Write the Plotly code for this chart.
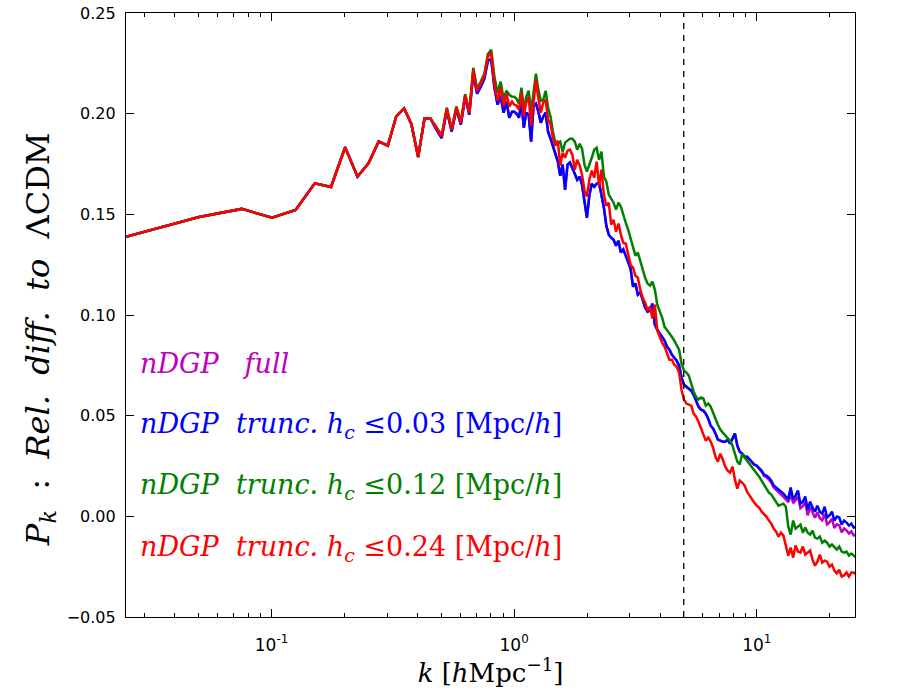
"""
Relative difference of P(k) to LCDM for full nDGP and the truncated runs
"""
import plotly.graph_objects as go

# ---- data ------------------------------------------------------------------
# low-k fundamental modes (k = n * 2pi/250)
k_lo = [0.02513, 0.05027, 0.0754, 0.1005, 0.1257, 0.1508, 0.1759, 0.2011, 0.2262, 0.2513,
        0.2765, 0.3016, 0.3267, 0.3519, 0.3770, 0.4021, 0.4273, 0.4524, 0.4775, 0.5027,
        0.5278, 0.5529, 0.5781, 0.6032, 0.6283, 0.6535, 0.6786, 0.7037, 0.7288, 0.7540,
        0.7791, 0.8042, 0.8294, 0.8545, 0.8796, 0.9048, 0.9299, 0.9550, 0.9802]
# k > 1 (sampled)
k_hi = [1.000, 1.023, 1.047, 1.072, 1.096, 1.122, 1.148, 1.175, 1.202, 1.230,
        1.259, 1.288, 1.318, 1.349, 1.380, 1.413, 1.445, 1.479, 1.514, 1.549,
        1.585, 1.622, 1.660, 1.698, 1.738, 1.778, 1.820, 1.862, 1.905, 1.950,
        1.995, 2.042, 2.089, 2.138, 2.188, 2.239, 2.291, 2.344, 2.399, 2.455,
        2.512, 2.570, 2.630, 2.692, 2.754, 2.818, 2.884, 2.951, 3.020, 3.090,
        3.162, 3.236, 3.311, 3.388, 3.467, 3.548, 3.631, 3.715, 3.802, 3.890,
        3.981, 4.074, 4.169, 4.266, 4.365, 4.467, 4.571, 4.677, 4.786, 4.898,
        5.012, 5.129, 5.248, 5.370, 5.495, 5.623, 5.754, 5.888, 6.026, 6.166,
        6.310, 6.457, 6.607, 6.761, 6.918, 7.079, 7.244, 7.413, 7.586, 7.762,
        7.943, 8.128, 8.318, 8.511, 8.710, 8.913, 9.120, 9.333, 9.550, 9.772,
        10.00, 10.23, 10.47, 10.72, 10.96, 11.22, 11.48, 11.75, 12.02, 12.30,
        12.59, 12.88, 13.18, 13.49, 13.80, 14.13, 14.45, 14.79, 15.14, 15.49,
        15.85, 16.22, 16.60, 16.98, 17.38, 17.78, 18.20, 18.62, 19.05, 19.50,
        19.95, 20.42, 20.89, 21.38, 21.88, 22.39, 22.91, 23.44, 23.99, 24.55,
        25.12, 25.70]

# h_c <= 0.24 (red)
trunc024_lo = [0.1388, 0.1487, 0.1527, 0.1483, 0.1522, 0.1654, 0.1636, 0.1833, 0.1687, 0.1755,
               0.1862, 0.1841, 0.1987, 0.2026, 0.1949, 0.1785, 0.1977, 0.1975, 0.1930, 0.1887,
               0.2025, 0.1920, 0.2031, 0.1954, 0.2091, 0.2003, 0.2218, 0.2114, 0.2149, 0.2189,
               0.2283, 0.2303, 0.2144, 0.2064, 0.2134, 0.2040, 0.2099, 0.2035, 0.2060]
trunc024_hi = [0.2045, 0.2040, 0.2020, 0.2104, 0.1990, 0.2055, 0.2084, 0.1940, 0.2069, 0.2169,
               0.2074, 0.2005, 0.2055, 0.2069, 0.1970, 0.1950, 0.1881, 0.1841, 0.1866, 0.1742,
               0.1806, 0.1781, 0.1816, 0.1821, 0.1796, 0.1722, 0.1771, 0.1742, 0.1697, 0.1617,
               0.1588, 0.1672, 0.1717, 0.1682, 0.1762, 0.1642, 0.1722, 0.1598, 0.1543, 0.1558,
               0.1449, 0.1473, 0.1414, 0.1454, 0.1399, 0.1359, 0.1354, 0.1300, 0.1250, 0.1235,
               0.1195, 0.1185, 0.1126, 0.1086, 0.1061, 0.1027, 0.1041, 0.0982, 0.1051, 0.0922,
               0.0892, 0.0863, 0.0843, 0.0813, 0.0778, 0.0778, 0.0753, 0.0743, 0.0714, 0.0629,
               0.0580, 0.0560, 0.0555, 0.0550, 0.0510, 0.0495, 0.0470, 0.0441, 0.0406, 0.0376,
               0.0391, 0.0371, 0.0341, 0.0296, 0.0272, 0.0311, 0.0282, 0.0247, 0.0227, 0.0217,
               0.0247, 0.0182, 0.0138, 0.0177, 0.0167, 0.0153, 0.0123, 0.0103, 0.0083, 0.0068,
               0.0053, 0.0043, 0.0023, 0.0009, -0.0001, -0.0021, -0.0036, -0.0061, -0.0076, -0.0101,
               -0.0081, -0.0096, -0.0145, -0.0195, -0.0155, -0.0205, -0.0145, -0.0175, -0.0180, -0.0150,
               -0.0190, -0.0180, -0.0170, -0.0215, -0.0245, -0.0225, -0.0190, -0.0230, -0.0220, -0.0225,
               -0.0250, -0.0240, -0.0270, -0.0284, -0.0265, -0.0299, -0.0294, -0.0279, -0.0299, -0.0279,
               -0.0279, -0.0289]

# h_c <= 0.12 (green)
trunc012_lo = [0.1388, 0.1487, 0.1527, 0.1483, 0.1522, 0.1654, 0.1636, 0.1833, 0.1687, 0.1755,
               0.1862, 0.1841, 0.1987, 0.2026, 0.1949, 0.1785, 0.1977, 0.1975, 0.1935, 0.1892,
               0.2030, 0.1925, 0.2036, 0.1960, 0.2097, 0.2010, 0.2228, 0.2124, 0.2160, 0.2200,
               0.2295, 0.2318, 0.2184, 0.2104, 0.2159, 0.2074, 0.2114, 0.2094, 0.2084]
trunc012_hi = [0.2084, 0.2074, 0.2050, 0.2129, 0.2025, 0.2084, 0.2114, 0.2010, 0.2119, 0.2199,
               0.2119, 0.2064, 0.2069, 0.2114, 0.2030, 0.1985, 0.1910, 0.1856, 0.1851, 0.1861,
               0.1811, 0.1856, 0.1866, 0.1876, 0.1876, 0.1861, 0.1821, 0.1851, 0.1826, 0.1747,
               0.1712, 0.1742, 0.1781, 0.1821, 0.1831, 0.1771, 0.1811, 0.1687, 0.1662, 0.1598,
               0.1578, 0.1558, 0.1523, 0.1558, 0.1538, 0.1493, 0.1459, 0.1424, 0.1379, 0.1334,
               0.1295, 0.1310, 0.1265, 0.1225, 0.1185, 0.1156, 0.1146, 0.1166, 0.1126, 0.1051,
               0.1017, 0.0987, 0.0942, 0.0927, 0.0912, 0.0892, 0.0873, 0.0853, 0.0828, 0.0758,
               0.0724, 0.0714, 0.0699, 0.0659, 0.0619, 0.0594, 0.0580, 0.0590, 0.0585, 0.0550,
               0.0560, 0.0545, 0.0510, 0.0485, 0.0455, 0.0431, 0.0416, 0.0401, 0.0391, 0.0376,
               0.0351, 0.0311, 0.0272, 0.0257, 0.0311, 0.0292, 0.0277, 0.0262, 0.0247, 0.0227,
               0.0212, 0.0197, 0.0177, 0.0157, 0.0138, 0.0118, 0.0108, 0.0088, 0.0068, 0.0053,
               0.0058, 0.0063, 0.0048, -0.0051, -0.0091, -0.0021, -0.0061, -0.0051, -0.0041, -0.0081,
               -0.0056, -0.0081, -0.0091, -0.0071, -0.0106, -0.0111, -0.0101, -0.0131, -0.0121, -0.0131,
               -0.0150, -0.0140, -0.0155, -0.0165, -0.0150, -0.0175, -0.0180, -0.0175, -0.0195, -0.0185,
               -0.0195, -0.0205]

# h_c <= 0.03 (blue)
trunc003_lo = [0.1388, 0.1487, 0.1527, 0.1483, 0.1522, 0.1654, 0.1636, 0.1833, 0.1687, 0.1755,
               0.1862, 0.1841, 0.1987, 0.2026, 0.1949, 0.1785, 0.1977, 0.1975, 0.1922, 0.1879,
               0.2017, 0.1912, 0.2023, 0.1946, 0.2083, 0.1995, 0.2203, 0.2099, 0.2134, 0.2174,
               0.2262, 0.2272, 0.2129, 0.2045, 0.2089, 0.2005, 0.2060, 0.1980, 0.2010]
trunc003_hi = [0.2010, 0.2000, 0.1980, 0.2060, 0.1930, 0.2005, 0.1995, 0.1861, 0.2040, 0.2050,
               0.2010, 0.1955, 0.1985, 0.2005, 0.1910, 0.1876, 0.1836, 0.1796, 0.1762, 0.1692,
               0.1747, 0.1622, 0.1747, 0.1757, 0.1732, 0.1702, 0.1672, 0.1687, 0.1647, 0.1573,
               0.1483, 0.1593, 0.1652, 0.1637, 0.1652, 0.1657, 0.1598, 0.1533, 0.1444, 0.1399,
               0.1384, 0.1374, 0.1344, 0.1369, 0.1310, 0.1325, 0.1295, 0.1260, 0.1230, 0.1141,
               0.1156, 0.1101, 0.1111, 0.1076, 0.1037, 0.1017, 0.1022, 0.1056, 0.0952, 0.0927,
               0.0907, 0.0892, 0.0873, 0.0843, 0.0828, 0.0803, 0.0788, 0.0773, 0.0748, 0.0689,
               0.0654, 0.0644, 0.0634, 0.0624, 0.0604, 0.0575, 0.0545, 0.0530, 0.0525, 0.0510,
               0.0485, 0.0450, 0.0436, 0.0411, 0.0381, 0.0376, 0.0371, 0.0371, 0.0381, 0.0361,
               0.0391, 0.0411, 0.0351, 0.0321, 0.0311, 0.0296, 0.0296, 0.0282, 0.0267, 0.0257,
               0.0252, 0.0242, 0.0227, 0.0207, 0.0202, 0.0192, 0.0177, 0.0153, 0.0143, 0.0133,
               0.0123, 0.0113, 0.0098, 0.0088, 0.0143, 0.0083, 0.0103, 0.0128, 0.0063, 0.0073,
               0.0098, 0.0033, 0.0073, 0.0043, 0.0023, 0.0053, 0.0023, 0.0013, 0.0048, -0.0006,
               0.0004, 0.0023, -0.0021, -0.0001, -0.0006, -0.0041, -0.0021, -0.0031, -0.0046, -0.0036,
               -0.0056, -0.0051]

# full nDGP (magenta) - sits under the blue curve up to k ~ 9.5
full_tail = [0.0267, 0.0257, 0.0250, 0.0238, 0.0222, 0.0200, 0.0195, 0.0183, 0.0167, 0.0143,
             0.0130, 0.0120, 0.0108, 0.0098, 0.0082, 0.0070, 0.0110, 0.0065, 0.0080, 0.0100,
             0.0040, 0.0050, 0.0070, 0.0005, 0.0045, 0.0015, -0.0007, 0.0020, -0.0010, -0.0020,
             0.0012, -0.0040, -0.0030, -0.0012, -0.0058, -0.0040, -0.0045, -0.0080, -0.0060, -0.0070,
             -0.0085, -0.0075, -0.0095, -0.0090]

k_cut = 5.0  # dashed vertical line

k_all = k_lo + k_hi
series = [
    ("full", trunc003_lo + trunc003_hi[:98] + full_tail, "#BF00BF"),
    ("0.03", trunc003_lo + trunc003_hi, "#0000FF"),
    ("0.12", trunc012_lo + trunc012_hi, "#008000"),
    ("0.24", trunc024_lo + trunc024_hi, "#FF0000"),
]
for name, vals, _ in series:
    assert len(vals) == len(k_all), name

NB = "\u00a0"
legend_text = [
    (f"<i>nDGP{NB}{NB}{NB}full</i>", "#BF00BF"),
    (f"<i>nDGP{NB}{NB}trunc.{NB}h<sub>c</sub></i>{NB}\u22640.03{NB}[Mpc/<i>h</i>]", "#0000FF"),
    (f"<i>nDGP{NB}{NB}trunc.{NB}h<sub>c</sub></i>{NB}\u22640.12{NB}[Mpc/<i>h</i>]", "#008000"),
    (f"<i>nDGP{NB}{NB}trunc.{NB}h<sub>c</sub></i>{NB}\u22640.24{NB}[Mpc/<i>h</i>]", "#FF0000"),
]
y_title = (f"<i>P<sub>k</sub></i>{NB}{NB}:{NB}{NB}<i>Rel.{NB}{NB}diff.{NB}{NB}to</i>"
           f"{NB}{NB}\u039bCDM")

SERIF = "DejaVu Serif, Liberation Serif, serif"
SANS = "DejaVu Sans, sans-serif"

fig = go.Figure()
for name, vals, colour in series:
    fig.add_trace(go.Scatter(x=k_all, y=vals, mode="lines", name=name,
                             line=dict(color=colour, width=2.5)))

fig.add_shape(type="line", xref="x", yref="paper", x0=k_cut, x1=k_cut, y0=0, y1=1,
              line=dict(color="black", width=1.3, dash="6px,6px"))

# text-only legend like the matplotlib one
for i, (txt, colour) in enumerate(legend_text):
    fig.add_annotation(xref="paper", yref="paper", x=0.016, y=0.420 - i * 0.1022,
                       xanchor="left", yanchor="middle", showarrow=False,
                       text=txt, font=dict(family=SERIF, size=27, color=colour))

# y label as an annotation so it can sit a bit below the axis centre, as in the original
fig.add_annotation(xref="paper", yref="paper", x=-0.118, y=0.46, textangle=-90,
                   xanchor="center", yanchor="middle", showarrow=False,
                   text=y_title, font=dict(family=SERIF, size=32, color="black"))

fig.update_xaxes(type="log", range=[-1.5998, 1.405], automargin=False,
                 tickvals=[0.1, 1, 10],
                 ticktext=["10<sup>-1</sup>", "10<sup>0</sup>", "10<sup>1</sup>"],
                 ticks="inside", ticklen=8, tickwidth=1, tickcolor="black",
                 minor=dict(dtick="D1", ticks="inside", ticklen=4, tickcolor="black", showgrid=False),
                 showline=True, linecolor="black", linewidth=1.2, mirror="ticks",
                 showgrid=False, zeroline=False, ticklabelstandoff=12, ticklabeloverflow="allow",
                 tickfont=dict(family=SANS, size=17, color="black"),
                 title=dict(text=f"<i>k</i>{NB}[<i>h</i>Mpc<sup>\u22121</sup>]", standoff=4,
                            font=dict(family=SERIF, size=26, color="black")))
fig.update_yaxes(range=[-0.05, 0.25], tick0=0, dtick=0.05, tickformat=".2f", automargin=False,
                 ticks="inside", ticklen=8, tickwidth=1, tickcolor="black",
                 showline=True, linecolor="black", linewidth=1.2, mirror="ticks",
                 showgrid=False, zeroline=False, ticklabelstandoff=6, ticklabeloverflow="allow",
                 tickfont=dict(family=SANS, size=16, color="black"))

fig.update_layout(width=900, height=700, showlegend=False,
                  paper_bgcolor="white", plot_bgcolor="white",
                  margin=dict(l=126, r=45, t=13, b=83))

# drop the browser's default body margin so the figure sits at the page corner
fig.write_html("out.html", config={"displayModeBar": False},
               post_script="document.body.style.margin='0px';")
